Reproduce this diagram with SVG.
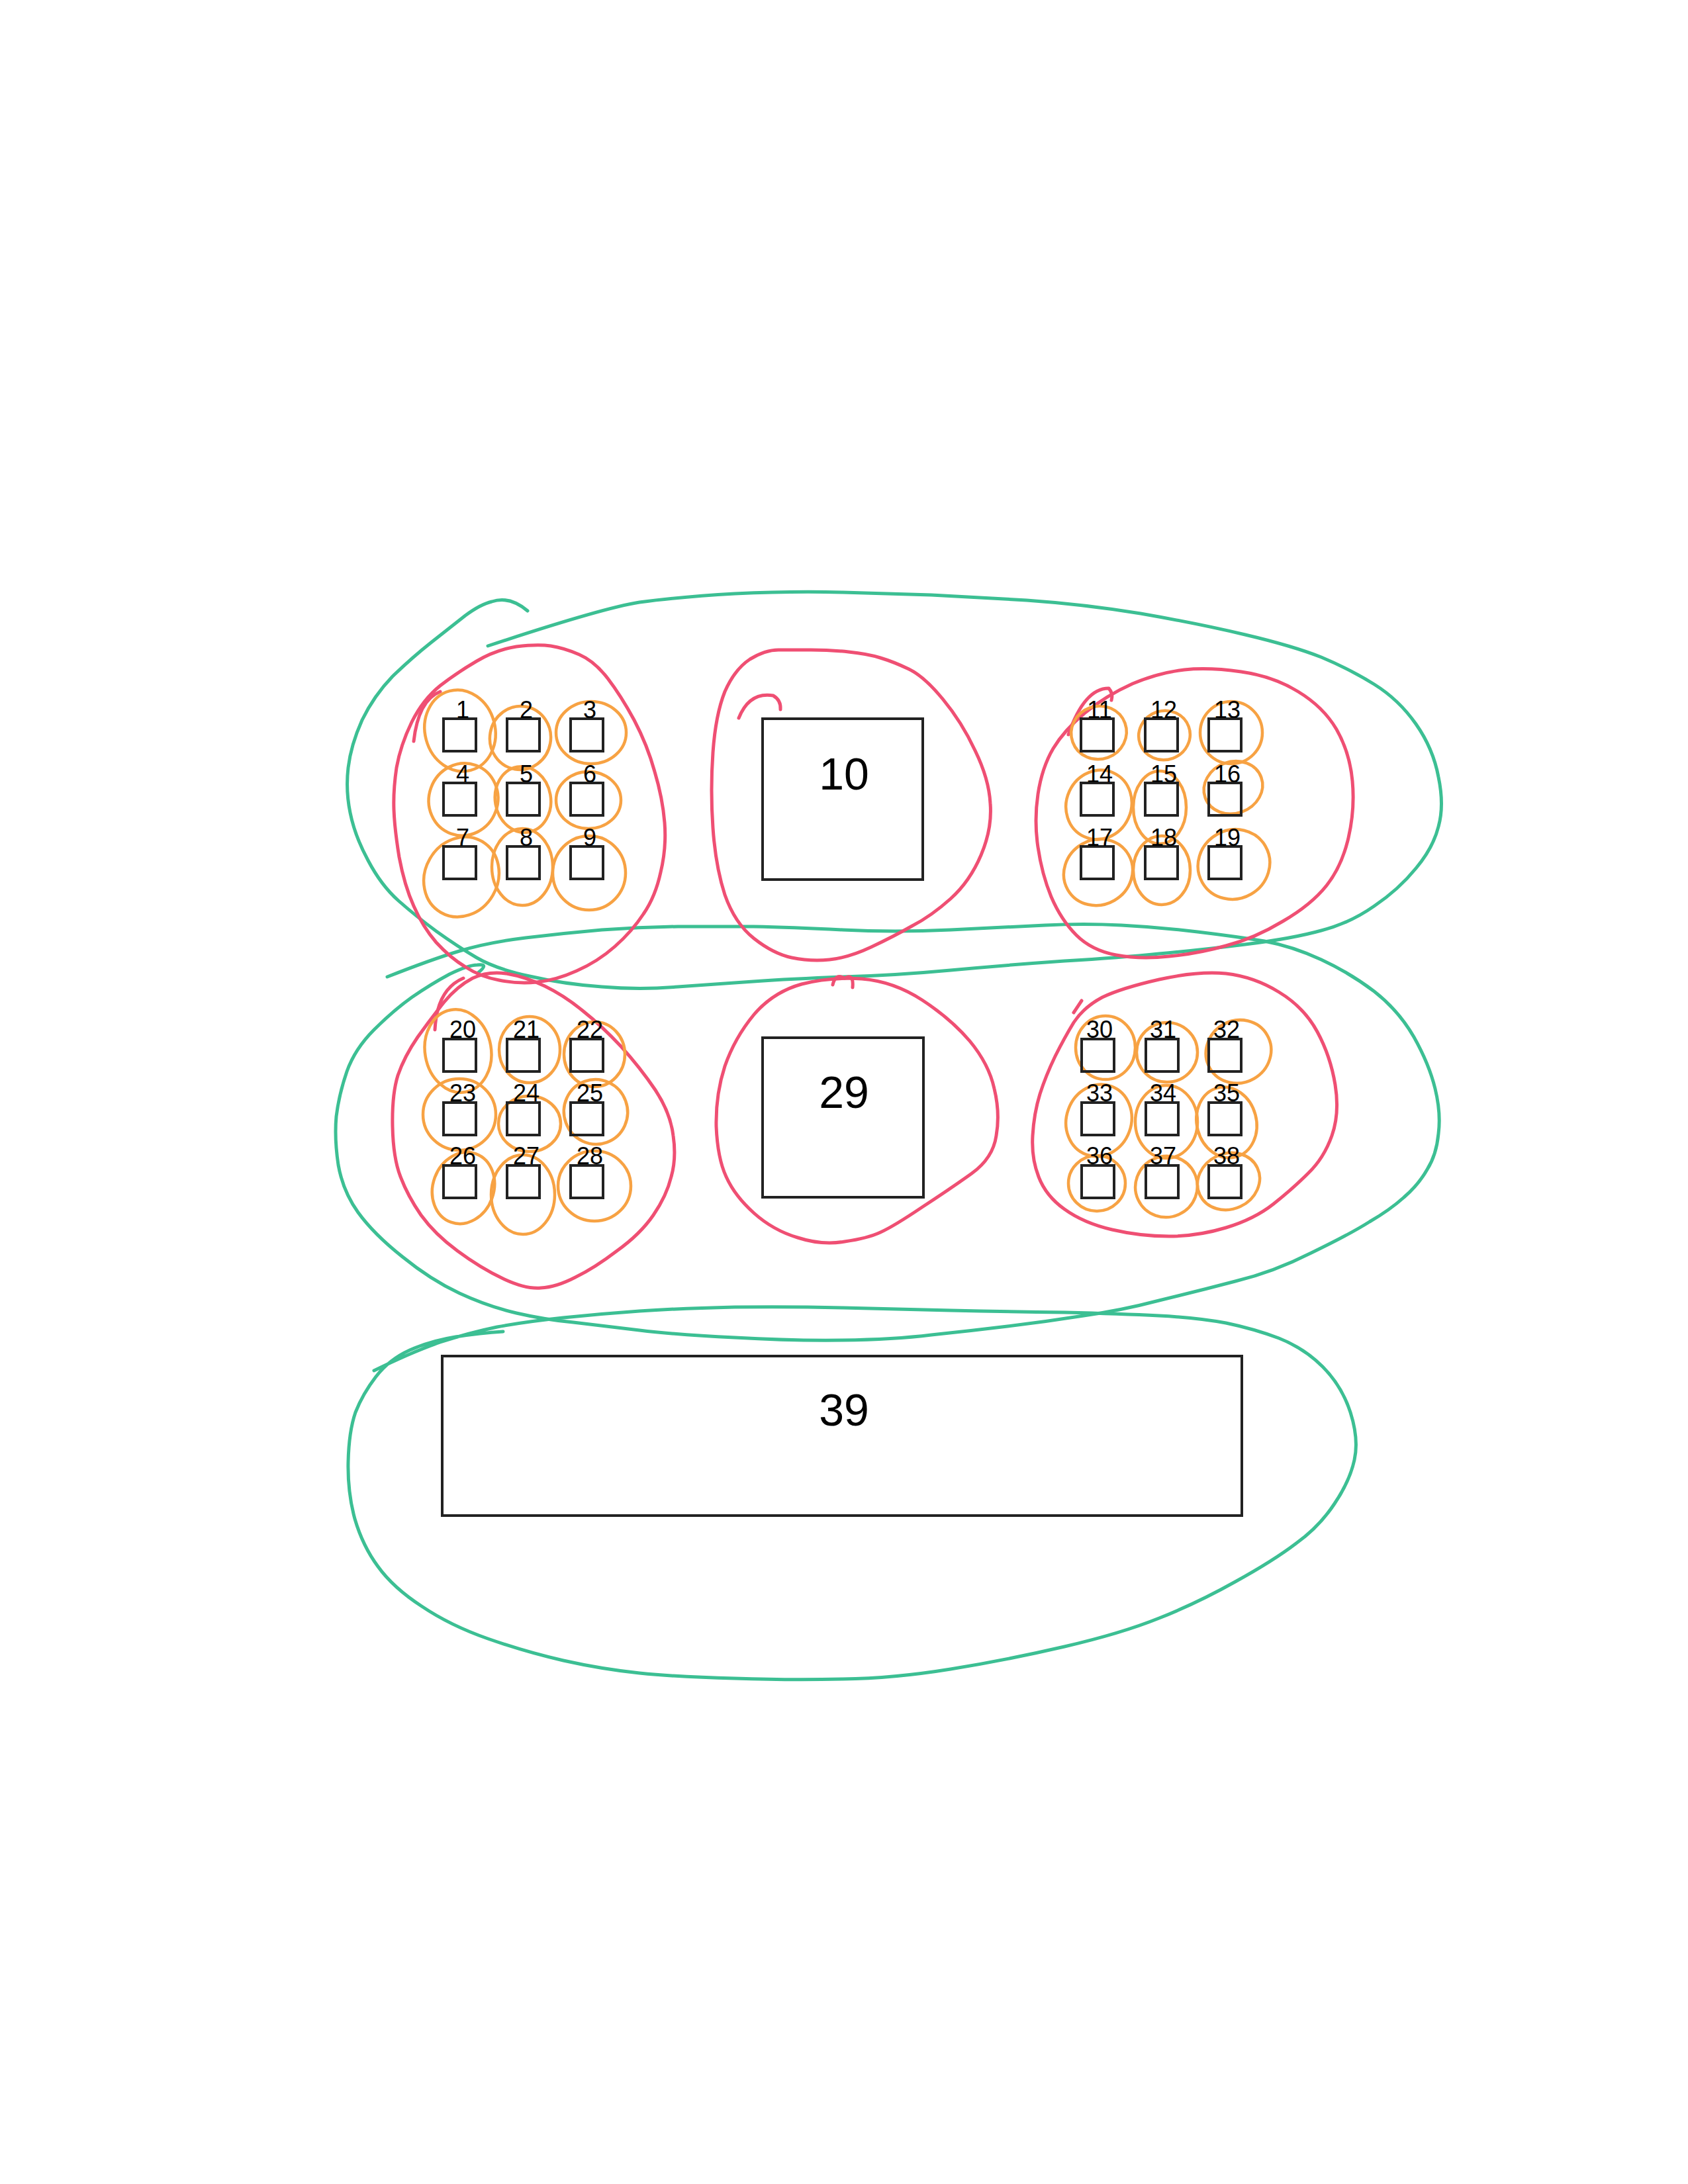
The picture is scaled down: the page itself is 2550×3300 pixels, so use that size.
<svg xmlns="http://www.w3.org/2000/svg" width="2550" height="3300" viewBox="0 0 2550 3300">
<style>
.g{fill:none;stroke:#3cbf93;stroke-width:5;stroke-linecap:round;stroke-linejoin:round}
.r{fill:none;stroke:#ef4f73;stroke-width:5;stroke-linecap:round;stroke-linejoin:round}
.o{fill:none;stroke:#f7a243;stroke-width:4.5}
.b{fill:none;stroke:#222;stroke-width:4}
.s{font-family:"Liberation Sans",Arial,sans-serif;font-size:36px;fill:#000;text-anchor:middle}
.L{font-family:"Liberation Sans",Arial,sans-serif;font-size:68px;fill:#000;text-anchor:middle}
</style>
<rect width="2550" height="3300" fill="#fff"/>
<g id="green-groups">
<path id="green1" class="g" d="M737,976 Q909,919 966,910 Q1024,902 1110,897 Q1196,893 1273,895 Q1350,897 1407,899 Q1465,902 1551,907 Q1637,913 1723,927 Q1809,942 1881,959 Q1953,976 1996,993 Q2039,1011 2076,1034 Q2113,1057 2139,1094 Q2165,1131 2173,1174 Q2182,1217 2173,1249 Q2165,1281 2139,1312 Q2113,1344 2076,1369 Q2039,1395 1996,1406 Q1953,1418 1881,1427 Q1809,1436 1751,1441 Q1694,1447 1608,1452 Q1522,1458 1436,1466 Q1350,1474 1273,1476 Q1196,1479 1138,1483 Q1081,1487 1024,1491 Q967,1496 909,1491 Q852,1487 800,1475 Q749,1464 720,1447 Q691,1430 659,1407 Q628,1384 602,1361 Q576,1338 556,1300 Q536,1263 529,1228 Q522,1194 526,1160 Q530,1126 547,1088 Q565,1051 593,1022 Q622,994 651,971 Q680,948 703,930 Q726,913 743,909 Q770,900 797,923"/>
<path id="green2" class="g" d="M585,1476 Q651,1450 694,1437 Q737,1424 794,1417 Q852,1410 909,1405 Q967,1401 1024,1400 Q1081,1400 1138,1400 Q1196,1401 1273,1405 Q1350,1409 1436,1405 Q1522,1401 1579,1398 Q1637,1395 1694,1398 Q1752,1401 1809,1408 Q1867,1415 1910,1422 Q1953,1430 1996,1450 Q2039,1470 2076,1498 Q2113,1527 2136,1567 Q2159,1608 2168,1645 Q2177,1682 2173,1713 Q2170,1745 2156,1767 Q2143,1790 2121,1809 Q2100,1828 2069,1846 Q2039,1865 1981,1893 Q1924,1922 1866,1936 Q1809,1951 1751,1965 Q1694,1980 1637,1988 Q1580,1997 1522,2004 Q1465,2011 1407,2017 Q1350,2024 1273,2025 Q1196,2026 1110,2021 Q1024,2017 966,2010 Q909,2003 866,1998 Q823,1994 780,1984 Q737,1974 694,1954 Q651,1934 608,1899 Q565,1865 541,1832 Q518,1800 511,1760 Q505,1720 508,1687 Q512,1654 524,1619 Q536,1585 565,1556 Q594,1527 622,1507 Q651,1487 679,1472 Q708,1458 721,1458 Q740,1456 722,1470"/>
<path id="green3" class="g" d="M565,2071 Q622,2043 665,2028 Q708,2014 751,2005 Q794,1997 851,1991 Q909,1985 966,1981 Q1024,1977 1110,1975 Q1196,1974 1273,1976 Q1350,1978 1436,1980 Q1522,1982 1608,1983 Q1694,1985 1751,1988 Q1809,1991 1852,1999 Q1895,2008 1932,2022 Q1970,2037 1998,2065 Q2027,2094 2040,2134 Q2053,2175 2046,2206 Q2039,2238 2016,2272 Q1993,2307 1958,2332 Q1924,2358 1866,2390 Q1809,2422 1751,2445 Q1694,2468 1608,2488 Q1522,2508 1436,2522 Q1350,2536 1273,2537 Q1196,2539 1110,2536 Q1024,2534 966,2528 Q909,2522 851,2509 Q794,2496 737,2476 Q680,2456 637,2427 Q594,2399 571,2367 Q548,2336 536,2295 Q525,2255 526,2209 Q527,2163 537,2134 Q548,2106 568,2080 Q588,2054 619,2040 Q651,2026 688,2020 Q726,2014 760,2012"/>
</g>
<g id="red-groups">
<g id="red1"><path class="r" d="M780,977 Q812,973 832,976 Q852,979 875,989 Q898,999 918,1025 Q938,1051 958,1088 Q978,1126 989,1166 Q1001,1206 1004,1243 Q1007,1281 998,1318 Q990,1355 972,1381 Q955,1407 929,1430 Q903,1453 871,1467 Q840,1481 811,1484 Q783,1487 754,1481 Q726,1476 703,1461 Q680,1447 659,1424 Q639,1401 625,1369 Q611,1338 603,1295 Q596,1252 595,1223 Q594,1194 599,1160 Q605,1126 622,1091 Q639,1057 665,1036 Q691,1016 720,999 Q749,982 780,977 Z"/><path class="r" d="M625,1120 Q632,1058 665,1045"/></g>
<g id="red2"><path class="r" d="M1176,982 Q1196,982 1225,982 Q1254,982 1282,985 Q1311,988 1330,994 Q1350,1000 1373,1011 Q1396,1022 1424,1056 Q1453,1091 1473,1134 Q1494,1177 1496,1214 Q1499,1252 1482,1292 Q1465,1332 1436,1358 Q1407,1384 1378,1399 Q1350,1415 1316,1431 Q1282,1447 1253,1450 Q1225,1453 1196,1447 Q1168,1441 1139,1418 Q1110,1395 1095,1352 Q1081,1309 1077,1251 Q1073,1194 1077,1137 Q1081,1080 1095,1045 Q1110,1011 1133,996 Q1156,982 1176,982 Z"/><path class="r" d="M1116,1085 Q1132,1045 1168,1051 Q1180,1058 1179,1072"/></g>
<g id="red3"><path class="r" d="M1789,1012 Q1826,1008 1875,1015 Q1924,1022 1961,1045 Q1999,1068 2019,1102 Q2039,1137 2043,1180 Q2047,1223 2037,1266 Q2027,1309 2004,1338 Q1981,1367 1938,1392 Q1895,1418 1852,1429 Q1809,1441 1766,1445 Q1723,1450 1686,1443 Q1649,1436 1626,1413 Q1603,1390 1588,1355 Q1574,1321 1568,1280 Q1562,1240 1568,1200 Q1574,1160 1591,1131 Q1608,1103 1639,1077 Q1671,1051 1711,1033 Q1752,1016 1789,1012 Z"/><path class="r" d="M1614,1110 Q1638,1040 1675,1040 Q1682,1048 1679,1058"/></g>
<g id="red4"><path class="r" d="M714,1478 Q737,1467 765,1471 Q794,1476 823,1490 Q852,1504 880,1527 Q909,1550 938,1581 Q967,1613 990,1647 Q1013,1682 1017,1716 Q1022,1750 1014,1778 Q1007,1807 987,1836 Q967,1865 932,1890 Q898,1916 869,1930 Q840,1945 817,1946 Q794,1948 760,1932 Q726,1916 691,1890 Q657,1865 636,1836 Q616,1807 605,1778 Q594,1750 593,1702 Q592,1654 601,1625 Q611,1596 631,1567 Q651,1539 671,1514 Q691,1490 714,1478 Z"/><path class="r" d="M657,1556 Q660,1495 700,1478"/></g>
<g id="red5"><path class="r" d="M1211,1487 Q1254,1476 1302,1479 Q1350,1483 1393,1511 Q1436,1539 1465,1573 Q1494,1608 1502,1645 Q1511,1682 1505,1716 Q1500,1750 1468,1773 Q1436,1796 1393,1824 Q1350,1853 1330,1862 Q1311,1871 1276,1876 Q1242,1882 1205,1870 Q1168,1859 1139,1833 Q1110,1807 1097,1778 Q1084,1750 1082,1702 Q1081,1654 1095,1611 Q1110,1568 1139,1533 Q1168,1499 1211,1487 Z"/><path class="r" d="M1258,1488 Q1262,1470 1276,1478 Q1290,1470 1288,1492"/></g>
<g id="red6"><path class="r" d="M1622,1545 Q1637,1522 1665,1507 Q1694,1493 1751,1480 Q1809,1467 1852,1471 Q1895,1476 1932,1499 Q1970,1522 1990,1559 Q2010,1596 2017,1639 Q2024,1682 2012,1716 Q2000,1750 1976,1773 Q1953,1796 1924,1819 Q1895,1842 1852,1855 Q1809,1868 1766,1868 Q1723,1868 1680,1858 Q1637,1848 1608,1827 Q1580,1807 1569,1778 Q1558,1750 1560,1716 Q1562,1682 1571,1653 Q1580,1625 1594,1596 Q1608,1568 1622,1545 Z"/><path class="r" d="M1634,1512 L1622,1530"/></g>
</g>
<g id="orange-groups">
<ellipse class="o" cx="695" cy="1104" rx="53" ry="62" transform="rotate(-15 695 1104)"/>
<ellipse class="o" cx="786" cy="1115" rx="46" ry="48" transform="rotate(10 786 1115)"/>
<ellipse class="o" cx="893" cy="1107" rx="53" ry="47"/>
<ellipse class="o" cx="700" cy="1208" rx="52" ry="55" transform="rotate(20 700 1208)"/>
<ellipse class="o" cx="790" cy="1208" rx="42" ry="50" transform="rotate(-10 790 1208)"/>
<ellipse class="o" cx="889" cy="1209" rx="49" ry="43"/>
<ellipse class="o" cx="697" cy="1325" rx="55" ry="62" transform="rotate(30 697 1325)"/>
<ellipse class="o" cx="789" cy="1310" rx="46" ry="58"/>
<ellipse class="o" cx="890" cy="1319" rx="55" ry="56"/>
<ellipse class="o" cx="1660" cy="1107" rx="42" ry="40" transform="rotate(-20 1660 1107)"/>
<ellipse class="o" cx="1759" cy="1111" rx="39" ry="37" transform="rotate(-20 1759 1111)"/>
<ellipse class="o" cx="1860" cy="1107" rx="47" ry="47"/>
<ellipse class="o" cx="1660" cy="1216" rx="49" ry="53" transform="rotate(25 1660 1216)"/>
<ellipse class="o" cx="1752" cy="1220" rx="40" ry="55"/>
<ellipse class="o" cx="1863" cy="1190" rx="45" ry="39" transform="rotate(-20 1863 1190)"/>
<ellipse class="o" cx="1659" cy="1318" rx="53" ry="49" transform="rotate(-30 1659 1318)"/>
<ellipse class="o" cx="1755" cy="1315" rx="43" ry="52"/>
<ellipse class="o" cx="1864" cy="1306" rx="55" ry="52" transform="rotate(-30 1864 1306)"/>
<ellipse class="o" cx="692" cy="1588" rx="50" ry="63" transform="rotate(-10 692 1588)"/>
<ellipse class="o" cx="800" cy="1586" rx="46" ry="50"/>
<ellipse class="o" cx="898" cy="1593" rx="46" ry="49"/>
<ellipse class="o" cx="694" cy="1684" rx="55" ry="54"/>
<ellipse class="o" cx="800" cy="1698" rx="47" ry="42"/>
<ellipse class="o" cx="900" cy="1680" rx="48" ry="49" transform="rotate(-20 900 1680)"/>
<ellipse class="o" cx="700" cy="1795" rx="46" ry="55" transform="rotate(20 700 1795)"/>
<ellipse class="o" cx="790" cy="1805" rx="48" ry="60"/>
<ellipse class="o" cx="898" cy="1792" rx="55" ry="53"/>
<ellipse class="o" cx="1670" cy="1583" rx="45" ry="48"/>
<ellipse class="o" cx="1763" cy="1590" rx="46" ry="45"/>
<ellipse class="o" cx="1871" cy="1589" rx="50" ry="47" transform="rotate(-30 1871 1589)"/>
<ellipse class="o" cx="1660" cy="1693" rx="49" ry="55" transform="rotate(20 1660 1693)"/>
<ellipse class="o" cx="1762" cy="1695" rx="47" ry="55"/>
<ellipse class="o" cx="1853" cy="1696" rx="45" ry="54" transform="rotate(-15 1853 1696)"/>
<ellipse class="o" cx="1657" cy="1788" rx="43" ry="42"/>
<ellipse class="o" cx="1762" cy="1793" rx="47" ry="46" transform="rotate(-25 1762 1793)"/>
<ellipse class="o" cx="1856" cy="1785" rx="48" ry="42" transform="rotate(-25 1856 1785)"/>
</g>
<g id="nodes">
<g id="n1"><rect class="b" x="670" y="1086" width="49" height="49"/><text class="s" x="699" y="1085">1</text></g>
<g id="n2"><rect class="b" x="766" y="1086" width="49" height="49"/><text class="s" x="795" y="1085">2</text></g>
<g id="n3"><rect class="b" x="862" y="1086" width="49" height="49"/><text class="s" x="891" y="1085">3</text></g>
<g id="n4"><rect class="b" x="670" y="1183" width="49" height="49"/><text class="s" x="699" y="1182">4</text></g>
<g id="n5"><rect class="b" x="766" y="1183" width="49" height="49"/><text class="s" x="795" y="1182">5</text></g>
<g id="n6"><rect class="b" x="862" y="1183" width="49" height="49"/><text class="s" x="891" y="1182">6</text></g>
<g id="n7"><rect class="b" x="670" y="1279" width="49" height="49"/><text class="s" x="699" y="1278">7</text></g>
<g id="n8"><rect class="b" x="766" y="1279" width="49" height="49"/><text class="s" x="795" y="1278">8</text></g>
<g id="n9"><rect class="b" x="862" y="1279" width="49" height="49"/><text class="s" x="891" y="1278">9</text></g>
<g id="n10"><rect class="b" x="1152" y="1086" width="242" height="243"/><text class="L" x="1275" y="1193">10</text></g>
<g id="n11"><rect class="b" x="1633" y="1086" width="49" height="49"/><text class="s" x="1661" y="1085">11</text></g>
<g id="n12"><rect class="b" x="1730" y="1086" width="49" height="49"/><text class="s" x="1758" y="1085">12</text></g>
<g id="n13"><rect class="b" x="1826" y="1086" width="49" height="49"/><text class="s" x="1854" y="1085">13</text></g>
<g id="n14"><rect class="b" x="1633" y="1183" width="49" height="49"/><text class="s" x="1661" y="1182">14</text></g>
<g id="n15"><rect class="b" x="1730" y="1183" width="49" height="49"/><text class="s" x="1758" y="1182">15</text></g>
<g id="n16"><rect class="b" x="1826" y="1183" width="49" height="49"/><text class="s" x="1854" y="1182">16</text></g>
<g id="n17"><rect class="b" x="1633" y="1279" width="49" height="49"/><text class="s" x="1661" y="1278">17</text></g>
<g id="n18"><rect class="b" x="1730" y="1279" width="49" height="49"/><text class="s" x="1758" y="1278">18</text></g>
<g id="n19"><rect class="b" x="1826" y="1279" width="49" height="49"/><text class="s" x="1854" y="1278">19</text></g>
<g id="n20"><rect class="b" x="670" y="1570" width="49" height="49"/><text class="s" x="699" y="1568">20</text></g>
<g id="n21"><rect class="b" x="766" y="1570" width="49" height="49"/><text class="s" x="795" y="1568">21</text></g>
<g id="n22"><rect class="b" x="862" y="1570" width="49" height="49"/><text class="s" x="891" y="1568">22</text></g>
<g id="n23"><rect class="b" x="670" y="1666" width="49" height="49"/><text class="s" x="699" y="1664">23</text></g>
<g id="n24"><rect class="b" x="766" y="1666" width="49" height="49"/><text class="s" x="795" y="1664">24</text></g>
<g id="n25"><rect class="b" x="862" y="1666" width="49" height="49"/><text class="s" x="891" y="1664">25</text></g>
<g id="n26"><rect class="b" x="670" y="1761" width="49" height="49"/><text class="s" x="699" y="1759">26</text></g>
<g id="n27"><rect class="b" x="766" y="1761" width="49" height="49"/><text class="s" x="795" y="1759">27</text></g>
<g id="n28"><rect class="b" x="862" y="1761" width="49" height="49"/><text class="s" x="891" y="1759">28</text></g>
<g id="n29"><rect class="b" x="1152" y="1568" width="243" height="241"/><text class="L" x="1275" y="1674">29</text></g>
<g id="n30"><rect class="b" x="1634" y="1570" width="49" height="49"/><text class="s" x="1661" y="1568">30</text></g>
<g id="n31"><rect class="b" x="1731" y="1570" width="49" height="49"/><text class="s" x="1757" y="1568">31</text></g>
<g id="n32"><rect class="b" x="1826" y="1570" width="49" height="49"/><text class="s" x="1853" y="1568">32</text></g>
<g id="n33"><rect class="b" x="1634" y="1666" width="49" height="49"/><text class="s" x="1661" y="1664">33</text></g>
<g id="n34"><rect class="b" x="1731" y="1666" width="49" height="49"/><text class="s" x="1757" y="1664">34</text></g>
<g id="n35"><rect class="b" x="1826" y="1666" width="49" height="49"/><text class="s" x="1853" y="1664">35</text></g>
<g id="n36"><rect class="b" x="1634" y="1761" width="49" height="49"/><text class="s" x="1661" y="1759">36</text></g>
<g id="n37"><rect class="b" x="1731" y="1761" width="49" height="49"/><text class="s" x="1757" y="1759">37</text></g>
<g id="n38"><rect class="b" x="1826" y="1761" width="49" height="49"/><text class="s" x="1853" y="1759">38</text></g>
<g id="n39"><rect class="b" x="668" y="2049" width="1208" height="241"/><text class="L" x="1275" y="2154">39</text></g>
</g>
<g id="connectors"/>
</svg>
